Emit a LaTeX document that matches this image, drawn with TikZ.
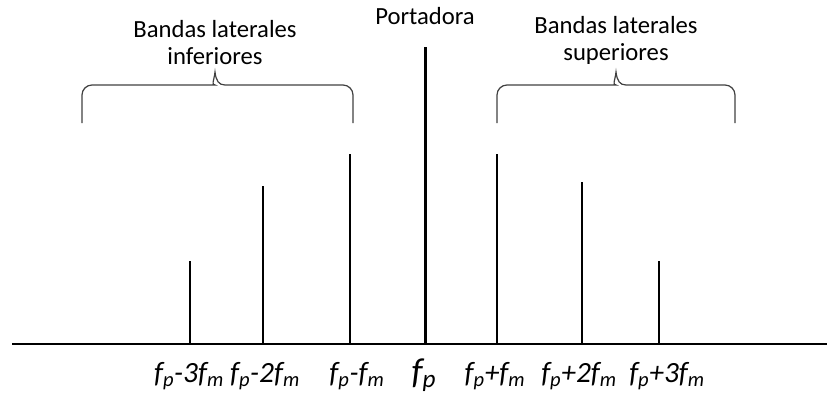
\documentclass[tikz,border=0pt]{standalone}
\usepackage{fontspec}
\setmainfont{Carlito}
\usetikzlibrary{positioning}
\tikzset{
  linea/.style={line width=1.5pt},
  portadora/.style={line width=2.25pt},
  llave/.style={line width=0.9pt, black!75, rounded corners=7.5pt},
  etiq/.style={font=\fontsize{22}{25}\selectfont\itshape, anchor=base, inner sep=0pt},
  titulo/.style={font=\fontsize{18.5}{20.5}\selectfont, align=center, inner sep=0pt}
}
\begin{document}
\begin{tikzpicture}[x=0.75pt, y=-0.75pt]
  \useasboundingbox (0,0) rectangle (827,393);

  % Eje de frecuencias
  \coordinate (ejeizq) at (12,344);
  \coordinate (ejeder) at (827,344);
  \draw[line width=1.1pt] (ejeizq) -- (ejeder);

  % Portadora
  \coordinate (porbase) at (425,344);
  \coordinate (portop) at (425,47);
  \draw[portadora] (porbase) -- (portop);
  \node[titulo, above=16.5pt of portop] (tport) {Portadora};

  % Bandas laterales
  \foreach \x/\h/\n in {190/261/i3, 263/186/i2, 350/154/i1, 497/154/s1, 582/182/s2, 659/261/s3} {
    \coordinate (b\n) at (\x,344);
    \coordinate (t\n) at (\x,\h);
    \draw[linea] (b\n) -- (t\n);
  }

  % Llave inferior
  \coordinate (picoinf) at (215,72);
  \draw[llave] (82,123) -- (82,85) -- (205,85)
    [rounded corners=0pt] .. controls (211,85) and (214,81) .. (picoinf)
    .. controls (216,81) and (219,85) .. (225,85)
    [rounded corners=7.5pt] -- (353,85) -- (353,123);
  \node[titulo, above=5.25pt of picoinf] (tinf) {Bandas laterales\\inferiores};

  % Llave superior
  \coordinate (picosup) at (616,72);
  \draw[llave] (497,123) -- (497,85) -- (606,85)
    [rounded corners=0pt] .. controls (612,85) and (615,81) .. (picosup)
    .. controls (617,81) and (620,85) .. (626,85)
    [rounded corners=7.5pt] -- (735,85) -- (735,123);
  \node[titulo, above=5.25pt of picosup] (tsup) {Bandas laterales\\superiores};

  % Etiquetas de frecuencia
  \node[etiq] (fi3) at (189,382) {f\textsubscript{p}-3f\textsubscript{m}};
  \node[etiq] (fi2) at (265,382) {f\textsubscript{p}-2f\textsubscript{m}};
  \node[etiq] (fi1) at (357,382) {f\textsubscript{p}-f\textsubscript{m}};
  \node[etiq, font=\fontsize{27}{30}\selectfont\itshape] (fp) at (424,383) {f\textsubscript{p}};
  \node[etiq] (fs1) at (495,382) {f\textsubscript{p}+f\textsubscript{m}};
  \node[etiq] (fs2) at (579,382) {f\textsubscript{p}+2f\textsubscript{m}};
  \node[etiq] (fs3) at (667,382) {f\textsubscript{p}+3f\textsubscript{m}};
\end{tikzpicture}
\end{document}
